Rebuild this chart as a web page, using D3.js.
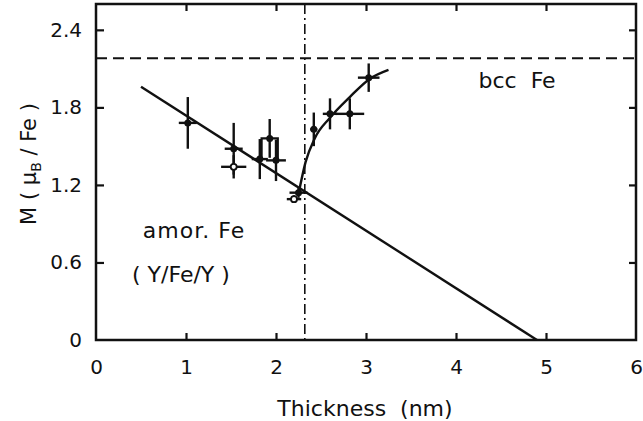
<!DOCTYPE html>
<html>
<head>
<meta charset="utf-8">
<script src="https://cdn.jsdelivr.net/npm/d3@7"></script>
<style>
  body { margin: 0; background: #fff; }
  text { font-family: "DejaVu Sans", sans-serif; fill: #111; }
</style>
</head>
<body>
<div id="chart"></div>
<script>
const margin = { top: 4, right: 7, bottom: 81, left: 96 };
const width = 643, height = 421;

// data
const xTicks = [0, 1, 2, 3, 4, 5, 6];
const yTicks = [0, 0.6, 1.2, 1.8, 2.4];
const bccLevel = 2.18;
const transition = 2.32;
const fitLine = [[0.5, 1.96], [4.9, 0]];
const growthCurve = [[2.25, 1.13], [2.33, 1.38], [2.43, 1.56], [2.6, 1.72], [2.82, 1.88], [3.04, 2.02], [3.25, 2.09]];
// [x, y, xErr, yErr]
const filledPts = [
    [1.02, 1.68, 0.1, 0.2],
    [1.53, 1.48, 0.1, 0.2],
    [1.82, 1.40, 0.09, 0.155],
    [1.93, 1.56, 0.0, 0.15],
    [2.0, 1.39, 0.11, 0.16],
    [2.25, 1.14, 0.1, 0.04],
    [2.42, 1.63, 0.04, 0.13],
    [2.6, 1.75, 0.08, 0.12],
    [2.82, 1.75, 0.16, 0.12],
    [3.03, 2.03, 0.12, 0.11]
];
const openPts = [
    [1.53, 1.34, 0.14, 0.09],
    [2.2, 1.09, 0.08, 0.03]
];
// bracket drawn round the 1.93 point
const bracket = [[1.84, 1.40], [1.84, 1.56], [2.02, 1.56], [2.02, 1.40]];

const x = d3.scaleLinear().domain([0, 6]).range([margin.left, width - margin.right]);
const y = d3.scaleLinear().domain([0, 2.6]).range([height - margin.bottom, margin.top]);

const svg = d3.select("#chart").append("svg")
    .attr("width", width).attr("height", height);

// frame
svg.append("rect")
    .attr("x", x(0)).attr("y", y(2.6))
    .attr("width", x(6) - x(0)).attr("height", y(0) - y(2.6))
    .attr("fill", "none").attr("stroke", "#111").attr("stroke-width", 2.5);

// axes with inward ticks
const gx = svg.append("g")
    .attr("transform", `translate(0,${y(0)})`)
    .call(d3.axisBottom(x).tickValues(xTicks).tickSize(-7).tickPadding(20).tickFormat(d3.format("d")));
const gy = svg.append("g")
    .attr("transform", `translate(${x(0)},0)`)
    .call(d3.axisLeft(y).tickValues(yTicks).tickSize(-8).tickPadding(14)
        .tickFormat(d => d === 0 ? "0" : d3.format(".1f")(d)));
svg.append("g")
    .attr("transform", `translate(0,${y(2.6)})`)
    .call(d3.axisTop(x).tickValues([1, 2, 3, 4, 5]).tickSize(-7).tickFormat(""));
svg.append("g")
    .attr("transform", `translate(${x(6)},0)`)
    .call(d3.axisRight(y).tickValues(yTicks.slice(1)).tickSize(-7).tickFormat(""));

svg.selectAll(".domain").remove();
svg.selectAll(".tick line").attr("stroke", "#111").attr("stroke-width", 2.2);
svg.selectAll(".tick text").style("font-size", "20px").attr("fill", "#111");
gx.selectAll(".tick").filter(d => d === 0 || d === 6).select("line").remove();
gy.selectAll(".tick").filter(d => d === 0).select("line").remove();

// bcc Fe level
svg.append("line")
    .attr("x1", x(0)).attr("x2", x(6))
    .attr("y1", y(bccLevel)).attr("y2", y(bccLevel))
    .attr("stroke", "#111").attr("stroke-width", 2).attr("stroke-dasharray", "11,6");

// transition thickness
svg.append("line")
    .attr("x1", x(transition)).attr("x2", x(transition))
    .attr("y1", y(2.6)).attr("y2", y(0) + 1)
    .attr("stroke", "#111").attr("stroke-width", 1.6).attr("stroke-dasharray", "10,4,2,4");

const line = d3.line().x(d => x(d[0])).y(d => y(d[1]));

svg.append("path").datum(fitLine)
    .attr("d", line).attr("fill", "none").attr("stroke", "#111").attr("stroke-width", 2.4);

svg.append("path").datum(growthCurve)
    .attr("d", line.curve(d3.curveMonotoneX)).attr("fill", "none")
    .attr("stroke", "#111").attr("stroke-width", 2.4);

svg.append("path").datum(bracket)
    .attr("d", d3.line().x(d => x(d[0])).y(d => y(d[1])))
    .attr("fill", "none").attr("stroke", "#111").attr("stroke-width", 2.2);

function errorBars(pts) {
    const g = svg.append("g").attr("stroke", "#111").attr("stroke-width", 2.4);
    g.selectAll(".v").data(pts.filter(d => d[3] > 0)).join("line")
        .attr("x1", d => x(d[0])).attr("x2", d => x(d[0]))
        .attr("y1", d => y(d[1] - d[3])).attr("y2", d => y(d[1] + d[3]));
    g.selectAll(".h").data(pts.filter(d => d[2] > 0)).join("line")
        .attr("x1", d => x(d[0] - d[2])).attr("x2", d => x(d[0] + d[2]))
        .attr("y1", d => y(d[1])).attr("y2", d => y(d[1]));
}
errorBars(filledPts);
errorBars(openPts);

svg.append("g").selectAll("circle").data(filledPts).join("circle")
    .attr("cx", d => x(d[0])).attr("cy", d => y(d[1])).attr("r", 3.5).attr("fill", "#111");
svg.append("g").selectAll("circle").data(openPts).join("circle")
    .attr("cx", d => x(d[0])).attr("cy", d => y(d[1])).attr("r", 3)
    .attr("fill", "#fff").attr("stroke", "#111").attr("stroke-width", 1.8);

// labels
svg.append("text").attr("x", x(4.25)).attr("y", y(1.95))
    .style("font-size", "22px").attr("xml:space", "preserve").text("bcc  Fe");
svg.append("text").attr("x", x(0.52)).attr("y", y(0.79))
    .style("font-size", "22px").style("letter-spacing", "1px").text("amor. Fe");
svg.append("text").attr("x", x(0.4)).attr("y", y(0.45))
    .style("font-size", "22px").attr("xml:space", "preserve").text("( Y/Fe/Y )");

svg.append("text").attr("x", 365).attr("y", 416).attr("text-anchor", "middle")
    .style("font-size", "22px").attr("xml:space", "preserve").text("Thickness  (nm)");

const yl = svg.append("text").attr("transform", "translate(36,164) rotate(-90)")
    .attr("text-anchor", "middle").style("font-size", "21px").attr("xml:space", "preserve");
yl.append("tspan").text("M ( μ");
yl.append("tspan").attr("dy", 5).style("font-size", "14px").text("B");
yl.append("tspan").attr("dy", -5).text(" / Fe )");
</script>
</body>
</html>
